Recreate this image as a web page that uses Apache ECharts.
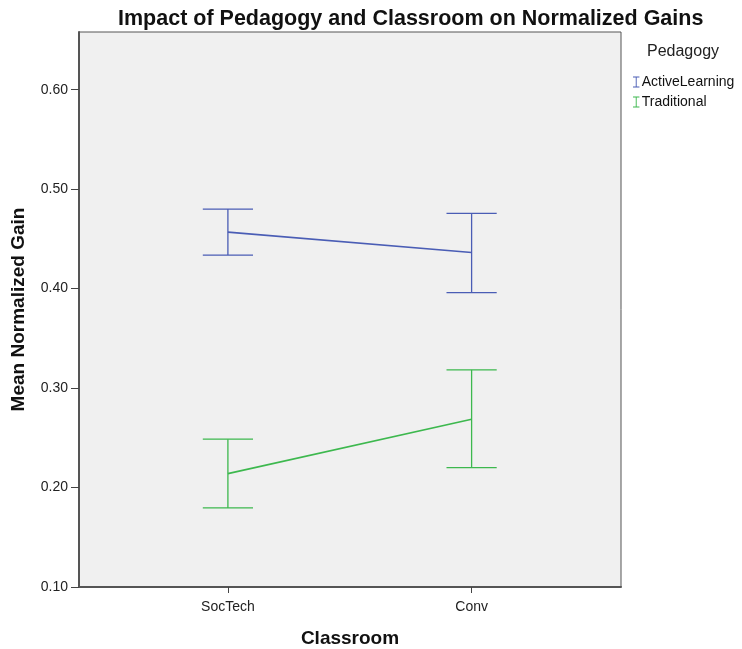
<!DOCTYPE html>
<html><head><meta charset="utf-8">
<script src="https://cdn.jsdelivr.net/npm/echarts@6/dist/echarts.min.js"></script>
<style>html,body{margin:0;padding:0;background:#fff}#c{width:742px;height:649px}</style>
</head><body><div id="c"></div>
<script>
const categories = ['SocTech', 'Conv'];
const seriesNames = ['ActiveLearning', 'Traditional'];
const activeMean = [0.4568, 0.4363];
const activeLow = [0.4337, 0.3960];
const activeHigh = [0.4800, 0.4756];
const tradMean = [0.2140, 0.2687];
const tradLow = [0.1795, 0.2200];
const tradHigh = [0.2486, 0.3183];
const yTicks = [0.1, 0.2, 0.3, 0.4, 0.5, 0.6];

const colors = ['#4A5DB5', '#3DB84E'];
const FONT = 'Liberation Sans, Arial, sans-serif';
const capHalf = 0.103;

function errSeries(name, color, low, high) {
  return {
    type: 'custom', name: name, color: color,
    data: categories.map((c, i) => [i, low[i], high[i]]),
    renderItem: function (params, api) {
      const x = api.value(0);
      const lo = api.coord([x, api.value(1)]);
      const hi = api.coord([x, api.value(2)]);
      const l1 = api.coord([x - capHalf, api.value(1)]);
      const r1 = api.coord([x + capHalf, api.value(1)]);
      const l2 = api.coord([x - capHalf, api.value(2)]);
      const r2 = api.coord([x + capHalf, api.value(2)]);
      const st = { stroke: color, lineWidth: 1.3 };
      return { type: 'group', children: [
        { type: 'line', shape: { x1: hi[0], y1: hi[1], x2: lo[0], y2: lo[1] }, style: st },
        { type: 'line', shape: { x1: l1[0], y1: l1[1], x2: r1[0], y2: r1[1] }, style: st },
        { type: 'line', shape: { x1: l2[0], y1: l2[1], x2: r2[0], y2: r2[1] }, style: st }
      ]};
    },
    z: 3
  };
}
function lineSeries(name, color, mean) {
  return {
    type: 'line', name: name + ' mean', color: color,
    data: categories.map((c, i) => [i, mean[i]]),
    showSymbol: false, symbol: 'none',
    lineStyle: { color: color, width: 1.6 }, z: 4
  };
}

const chart = echarts.init(document.getElementById('c'));
chart.setOption({
  backgroundColor: '#ffffff',
  animation: false,
  title: [
    { text: 'Impact of Pedagogy and Classroom on Normalized Gains', left: 113, top: 3,
      textStyle: { fontFamily: FONT, fontSize: 21.5, fontWeight: 'bold', color: '#111' } },
    { text: 'Pedagogy', left: 642, top: 39,
      textStyle: { fontFamily: FONT, fontSize: 16, fontWeight: 'normal', color: '#222' } }
  ],
  legend: {
    orient: 'vertical', left: 628, top: 70, itemGap: 6,
    itemWidth: 7, itemHeight: 11,
    icon: 'path://M0,0h7v1h-3v10h3v1h-7v-1h3v-10h-3z',
    data: seriesNames,
    textStyle: { fontFamily: FONT, fontSize: 14, color: '#111', padding: [0, 0, 0, -3] }
  },
  grid: { left: 79, right: 121, top: 32, bottom: 62, outerBoundsMode: 'none', containLabel: false,
    show: true, backgroundColor: '#F0F0F0', borderColor: '#555', borderWidth: 1 },
  xAxis: {
    type: 'value', min: -0.611, max: 1.613,
    name: 'Classroom', nameLocation: 'middle', nameGap: 42,
    nameTextStyle: { fontFamily: FONT, fontSize: 19, fontWeight: 'bold', color: '#111' },
    axisLine: { show: true, onZero: false, lineStyle: { color: '#555', width: 2 } },
    axisTick: { show: true, customValues: [0, 1], length: 6, lineStyle: { color: '#444' } },
    axisLabel: { customValues: [0, 1], formatter: v => categories[Math.round(v)] || '', margin: 13,
      fontFamily: FONT, fontSize: 14, color: '#222' },
    splitLine: { show: false }
  },
  yAxis: {
    type: 'value', min: 0.1, max: 0.658, interval: 0.1,
    name: 'Mean Normalized Gain', nameLocation: 'middle', nameGap: 51,
    nameTextStyle: { fontFamily: FONT, fontSize: 19, fontWeight: 'bold', color: '#111' },
    axisLine: { show: true, onZero: false, lineStyle: { color: '#555', width: 2 } },
    axisTick: { show: true, length: 8, customValues: yTicks, lineStyle: { color: '#444' } },
    axisLabel: { formatter: v => v.toFixed(2), margin: 11, fontFamily: FONT, fontSize: 14, color: '#222',
      customValues: yTicks },
    splitLine: { show: false }
  },
  series: [
    errSeries(seriesNames[0], colors[0], activeLow, activeHigh),
    errSeries(seriesNames[1], colors[1], tradLow, tradHigh),
    lineSeries(seriesNames[0], colors[0], activeMean),
    lineSeries(seriesNames[1], colors[1], tradMean)
  ]
});
</script></body></html>
